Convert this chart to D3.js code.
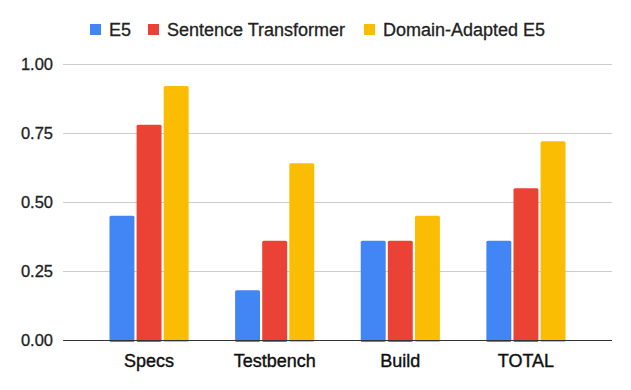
<!DOCTYPE html>
<html>
<head>
<meta charset="utf-8">
<script src="https://cdn.jsdelivr.net/npm/d3@7"></script>
<style>
  body { margin: 0; background: #fff; }
  text { font-family: "Liberation Sans", Arial, sans-serif; }
</style>
</head>
<body>
<svg id="chart" width="631" height="390"></svg>
<script>
var categories = ["Specs", "Testbench", "Build", "TOTAL"];
var seriesNames = ["E5", "Sentence Transformer", "Domain-Adapted E5"];
var e5 = [0.45, 0.18, 0.36, 0.36];
var sentenceTransformer = [0.78, 0.36, 0.36, 0.55];
var domainAdaptedE5 = [0.92, 0.64, 0.45, 0.72];
var yTicks = [0, 0.25, 0.5, 0.75, 1];
var colors = ["#4285f4", "#ea4335", "#fbbc04"];

var allSeries = [e5, sentenceTransformer, domainAdaptedE5];

var svg = d3.select("#chart");

var plotLeft = 63, plotRight = 612, plotTop = 64, plotBottom = 340;

var x0 = d3.scaleBand()
    .domain(categories)
    .range([plotLeft, plotRight])
    .padding(0.37);

var x1 = d3.scaleBand()
    .domain(seriesNames)
    .range([0, x0.bandwidth()])
    .paddingInner(0.08);

var y = d3.scaleLinear()
    .domain([0, 1])
    .range([plotBottom, plotTop]);

var color = d3.scaleOrdinal().domain(seriesNames).range(colors);

// gridlines
svg.append("g")
    .attr("class", "grid")
    .selectAll("line")
    .data(yTicks.filter(d => d > 0))
    .enter().append("line")
    .attr("x1", plotLeft)
    .attr("x2", plotRight)
    .attr("y1", d => Math.round(y(d)) + 0.5)
    .attr("y2", d => Math.round(y(d)) + 0.5)
    .attr("stroke", "#cccccc")
    .attr("stroke-width", 1);

// y labels
svg.append("g")
    .selectAll("text")
    .data(yTicks)
    .enter().append("text")
    .attr("x", plotLeft - 10)
    .attr("y", d => y(d))
    .attr("dy", "0.36em")
    .attr("text-anchor", "end")
    .attr("font-size", "16.5px")
    .attr("fill", "#222")
    .attr("stroke", "#222")
    .attr("stroke-width", 0.3)
    .text(d3.format(".2f"));

// bars
var groups = svg.append("g")
    .selectAll("g")
    .data(categories)
    .enter().append("g")
    .attr("transform", d => "translate(" + x0(d) + ",0)");

groups.selectAll("rect")
    .data((c, i) => seriesNames.map((s, j) => ({ key: s, value: allSeries[j][i] })))
    .enter().append("rect")
    .attr("x", d => x1(d.key))
    .attr("y", d => y(d.value))
    .attr("width", x1.bandwidth())
    .attr("height", d => y(0) - y(d.value) + 2)
    .attr("rx", 1.5)
    .attr("fill", d => color(d.key));

// baseline
svg.append("line")
    .attr("x1", plotLeft)
    .attr("x2", plotRight)
    .attr("y1", plotBottom + 0.5)
    .attr("y2", plotBottom + 0.5)
    .attr("stroke", "#333333")
    .attr("stroke-width", 1.2);

// x labels
svg.append("g")
    .selectAll("text")
    .data(categories)
    .enter().append("text")
    .attr("x", d => x0(d) + x0.bandwidth() / 2)
    .attr("y", 367)
    .attr("text-anchor", "middle")
    .attr("font-size", "18px")
    .attr("fill", "#111")
    .attr("stroke", "#111")
    .attr("stroke-width", 0.4)
    .text(d => d);

// legend
var legendX = [90, 148, 364];
var legend = svg.append("g")
    .selectAll("g")
    .data(seriesNames)
    .enter().append("g")
    .attr("transform", (d, i) => "translate(" + legendX[i] + ",24)");

legend.append("rect")
    .attr("width", 11)
    .attr("height", 11)
    .attr("fill", color);

legend.append("text")
    .attr("x", 19)
    .attr("y", 12)
    .attr("font-size", "18px")
    .attr("fill", "#222")
    .attr("stroke", "#222")
    .attr("stroke-width", 0.3)
    .text(d => d);
</script>
</body>
</html>
